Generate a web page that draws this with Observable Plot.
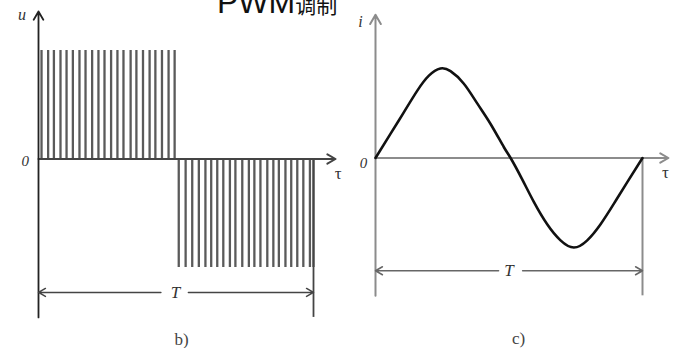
<!DOCTYPE html>
<html>
<head>
<meta charset="utf-8">
<script src="https://cdn.jsdelivr.net/npm/d3@7"></script>
<script src="https://cdn.jsdelivr.net/npm/@observablehq/plot@0.6"></script>
<style>
  body { margin: 0; background: white; }
  #wrap { position: relative; width: 678px; height: 348px; overflow: hidden; background: white; }
  #left, #right { position: absolute; top: 0; }
  #left { left: 0; }
  #right { left: 339px; }
  #title { position: absolute; left: 217px; top: -14px; font-family: "Liberation Sans", Arial, sans-serif; font-size: 32px; line-height: 32px; color: #111; white-space: nowrap; }
  #title span { font-family: "Noto Sans CJK SC", sans-serif; font-size: 21px; }
</style>
</head>
<body>
<div id="wrap">
  <div id="left"></div>
  <div id="right"></div>
  <div id="title">PWM<span>调制</span></div>
</div>
<script>
// ---- data (t in units of the period T, amplitudes normalised) ----
const posPulses = [0.011,0.035,0.056,0.080,0.102,0.125,0.149,0.171,0.195,0.218,0.240,0.264,0.287,0.309,0.335,0.356,0.380,0.404,0.425,0.449,0.473,0.495];
const negPulses = [0.510,0.535,0.559,0.583,0.607,0.628,0.650,0.672,0.696,0.716,0.741,0.765,0.785,0.807,0.832,0.854,0.874,0.898,0.919,0.941,0.963,0.987,1.0];
const sineT = [0,0.056,0.106,0.156,0.200,0.243,0.281,0.331,0.381,0.431,0.481,0.506,0.548,0.593,0.643,0.693,0.743,0.793,0.843,0.893,0.943,1.0];
const sineI = [0,0.27,0.51,0.75,0.92,1.0,0.97,0.83,0.61,0.38,0.12,0,-0.23,-0.49,-0.74,-0.92,-1.0,-0.92,-0.74,-0.51,-0.27,0];
const pulseHigh = 1, pulseLow = -1;
const labelsB = { y: "u", origin: "0", x: "τ", period: "T", caption: "b)" };
const labelsC = { y: "i", origin: "0", x: "τ", period: "T", caption: "c)" };

const sine = sineT.map((t, k) => ({ t, i: sineI[k] }));
const serif = "'Liberation Serif', 'DejaVu Serif', serif";

const left = Plot.plot({
  width: 339, height: 348,
  marginLeft: 38, marginRight: 26, marginTop: 50, marginBottom: 81,
  x: { domain: [0, 1], axis: null },
  y: { domain: [-1, 1], axis: null },
  style: { overflow: "visible", background: "transparent" },
  marks: [
    Plot.ruleX(posPulses, { x: d => d, y1: 0, y2: pulseHigh, stroke: "#5a5a5a", strokeWidth: 2.3 }),
    Plot.ruleX(negPulses, { x: d => d, y1: 0, y2: pulseLow, stroke: "#5a5a5a", strokeWidth: 2.3 }),
    Plot.arrow([{ a: 0, b: 1.08 }], { x1: "a", x2: "b", y1: 0, y2: 0, stroke: "#444", strokeWidth: 2, headLength: 7 }),
    Plot.arrow([{ a: -1.46, b: 1.36 }], { x1: 0, x2: 0, y1: "a", y2: "b", stroke: "#222", strokeWidth: 1.8, headLength: 8 }),
    Plot.ruleX([1], { x: d => d, y1: -1.46, y2: 0, stroke: "#444", strokeWidth: 1.8 }),
    Plot.arrow([{ a: 0.445, b: 0 }, { a: 0.545, b: 1 }], { x1: "a", x2: "b", y1: -1.23, y2: -1.23, stroke: "#444", strokeWidth: 1.5, headLength: 8 }),
    Plot.text([labelsB.period], { text: d => d, x: 0.498, y: -1.23, fontFamily: serif, fontStyle: "italic", fontSize: 17, fill: "#333" }),
    Plot.text([labelsB.y], { text: d => d, x: -0.06, y: 1.33, fontFamily: serif, fontStyle: "italic", fontSize: 16, fill: "#333" }),
    Plot.text([labelsB.origin], { text: d => d, x: -0.048, y: -0.02, fontFamily: serif, fontStyle: "italic", fontSize: 15, fill: "#333" }),
    Plot.text([labelsB.x], { text: d => d, x: 1.09, y: -0.13, fontFamily: serif, fontSize: 17, fill: "#333" }),
    Plot.text([labelsB.caption], { text: d => d, x: 0.52, y: -1.66, fontFamily: serif, fontSize: 17, fill: "#444" })
  ]
});

const right = Plot.plot({
  width: 339, height: 348,
  marginLeft: 36, marginRight: 36, marginTop: 68, marginBottom: 101,
  x: { domain: [0, 1], axis: null },
  y: { domain: [-1, 1], axis: null },
  style: { overflow: "visible", background: "transparent" },
  marks: [
    Plot.arrow([{ a: 0, b: 1.097 }], { x1: "a", x2: "b", y1: 0, y2: 0, stroke: "#8c8c8c", strokeWidth: 2, headLength: 7 }),
    Plot.arrow([{ a: -1.54, b: 1.6 }], { x1: 0, x2: 0, y1: "a", y2: "b", stroke: "#8c8c8c", strokeWidth: 2, headLength: 8 }),
    Plot.ruleX([1], { x: d => d, y1: -1.54, y2: 0, stroke: "#8c8c8c", strokeWidth: 2 }),
    Plot.arrow([{ a: 0.461, b: 0 }, { a: 0.551, b: 1 }], { x1: "a", x2: "b", y1: -1.26, y2: -1.26, stroke: "#666", strokeWidth: 1.5, headLength: 8 }),
    Plot.line(sine, { x: "t", y: "i", curve: "natural", stroke: "#111", strokeWidth: 2.6 }),
    Plot.text([labelsC.period], { text: d => d, x: 0.5, y: -1.26, fontFamily: serif, fontStyle: "italic", fontSize: 17, fill: "#333" }),
    Plot.text([labelsC.y], { text: d => d, x: -0.056, y: 1.52, fontFamily: serif, fontStyle: "italic", fontSize: 16, fill: "#333" }),
    Plot.text([labelsC.origin], { text: d => d, x: -0.045, y: -0.06, fontFamily: serif, fontStyle: "italic", fontSize: 15, fill: "#333" }),
    Plot.text([labelsC.x], { text: d => d, x: 1.086, y: -0.16, fontFamily: serif, fontSize: 17, fill: "#333" }),
    Plot.text([labelsC.caption], { text: d => d, x: 0.536, y: -2.02, fontFamily: serif, fontSize: 17, fill: "#444" })
  ]
});

document.getElementById("left").append(left);
document.getElementById("right").append(right);
</script>
</body>
</html>
